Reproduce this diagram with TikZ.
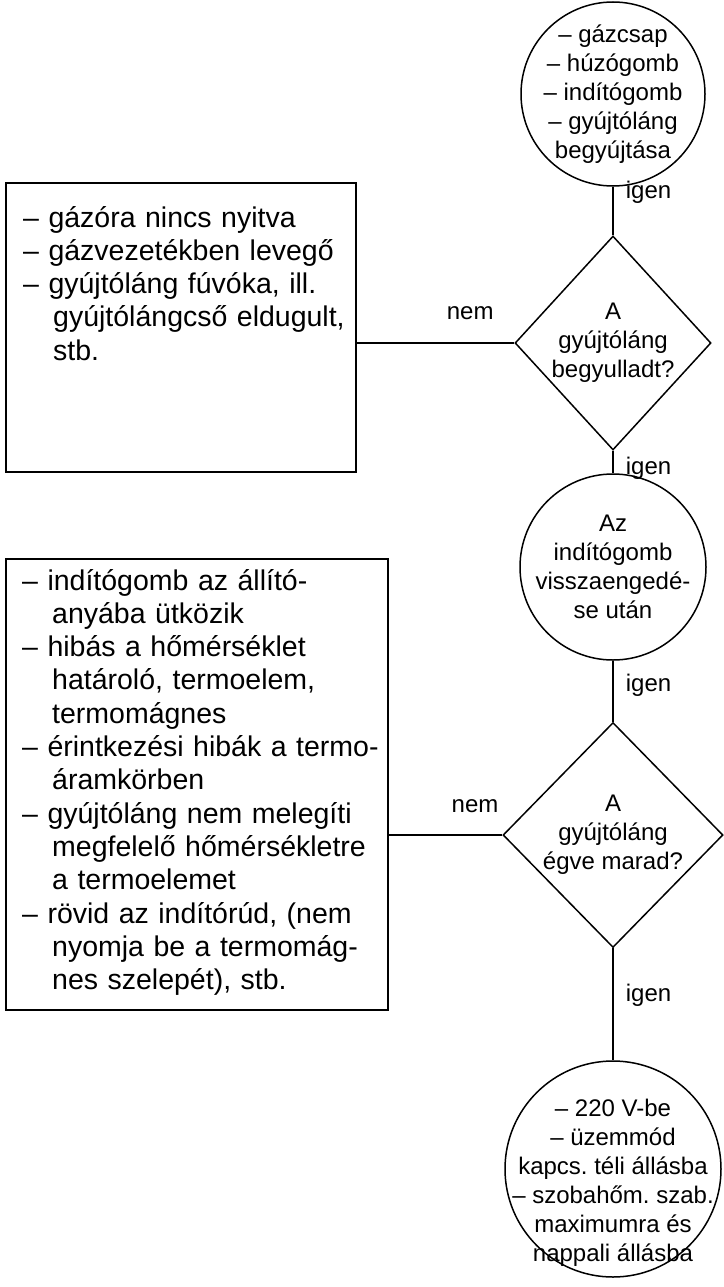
\documentclass[tikz,border=0pt]{standalone}
\usepackage{fontspec}
\setmainfont{Liberation Sans}
\usetikzlibrary{shapes.geometric, positioning}
\frenchspacing

\newcommand{\folyt}{\hspace*{30pt}}

\begin{document}
\begin{tikzpicture}[x=1pt, y=-1pt,
        vonal/.style={line width=1.7pt},
        kor/.style={circle, draw, line width=1.5pt, align=center, font=\fontsize{24}{29}\selectfont},
        rombusz/.style={diamond, draw, line width=1.5pt, align=center, inner sep=0pt, font=\fontsize{24}{29}\selectfont},
        doboz/.style={rectangle, draw, line width=1.7pt},
        dobozszoveg/.style={inner sep=0pt, anchor=base west, text width=370pt, align=left, font=\fontsize{28.5}{33.3}\selectfont},
        felirat/.style={inner sep=0pt, font=\fontsize{24}{29}\selectfont}]

        % Keret (a rajz teljes merete)
        \useasboundingbox (0,0) rectangle (723,1287);

        % Jobb oldali oszlop: lepesek es dontesek
        \node[kor, minimum size=184, inner sep=-8pt] (gyujtas) at (613,94) {– gázcsap\\– húzógomb\\– indítógomb\\– gyújtóláng\\begyújtása};
        \node[rombusz, minimum width=196, minimum height=214, aspect=0.916] (beg) at (613,343) {A\\gyújtóláng\\begyulladt?};
        \node[kor, minimum size=186, inner sep=-8pt] (vissza) at (613,567) {Az\\indítógomb\\visszaengedé-\\se után};
        \node[rombusz, minimum width=220, minimum height=225, aspect=0.978] (egve) at (613,835) {A\\gyújtóláng\\égve marad?};
        \node[kor, minimum size=216, inner sep=-30pt] (uzem) at (613,1169) {\rule{0pt}{44pt}– 220 V-be\\– üzemmód\\kapcs. téli állásba\\– szobahőm. szab.\\maximumra és\\nappali állásba};

        % Bal oldali dobozok: hibaokok
        \node[doboz, minimum width=350, minimum height=289] (hiba1) at (181,327.5) {};
        \node[dobozszoveg] (hiba1szoveg) at (23,227) {– gázóra nincs nyitva\\– gázvezetékben levegő\\– gyújtóláng fúvóka, ill.\\\folyt gyújtólángcső eldugult,\\\folyt stb.};

        \node[doboz, minimum width=382, minimum height=451] (hiba2) at (197,784.5) {};
        \node[dobozszoveg] (hiba2szoveg) at (22,590) {– indítógomb az állító-\\\folyt anyába ütközik\\– hibás a hőmérséklet\\\folyt határoló, termoelem,\\\folyt termomágnes\\– érintkezési hibák a termo-\\\folyt áramkörben\\– gyújtóláng nem melegíti\\\folyt megfelelő hőmérsékletre\\\folyt a termoelemet\\– rövid az indítórúd, (nem\\\folyt nyomja be a termomág-\\\folyt nes szelepét), stb.};

        % Osszekotok (igen lefele, nem balra)
        \draw[vonal] (gyujtas) -- (beg) node[felirat, pos=.11, right=12pt] {igen};
        \draw[vonal] (beg) -- (vissza) node[felirat, pos=.8, right=12pt] {igen};
        \draw[vonal] (vissza) -- (egve) node[felirat, pos=.41, right=12pt] {igen};
        \draw[vonal] (egve) -- (uzem) node[felirat, pos=.42, right=12pt] {igen};

        \draw[vonal] (beg.west) -- (hiba1.east |- beg.west) node[felirat, pos=.28, above=22pt] {nem};
        \draw[vonal] (egve.west) -- (hiba2.east |- egve.west) node[felirat, pos=.24, above=21pt] {nem};
    \end{tikzpicture}
\end{document}
